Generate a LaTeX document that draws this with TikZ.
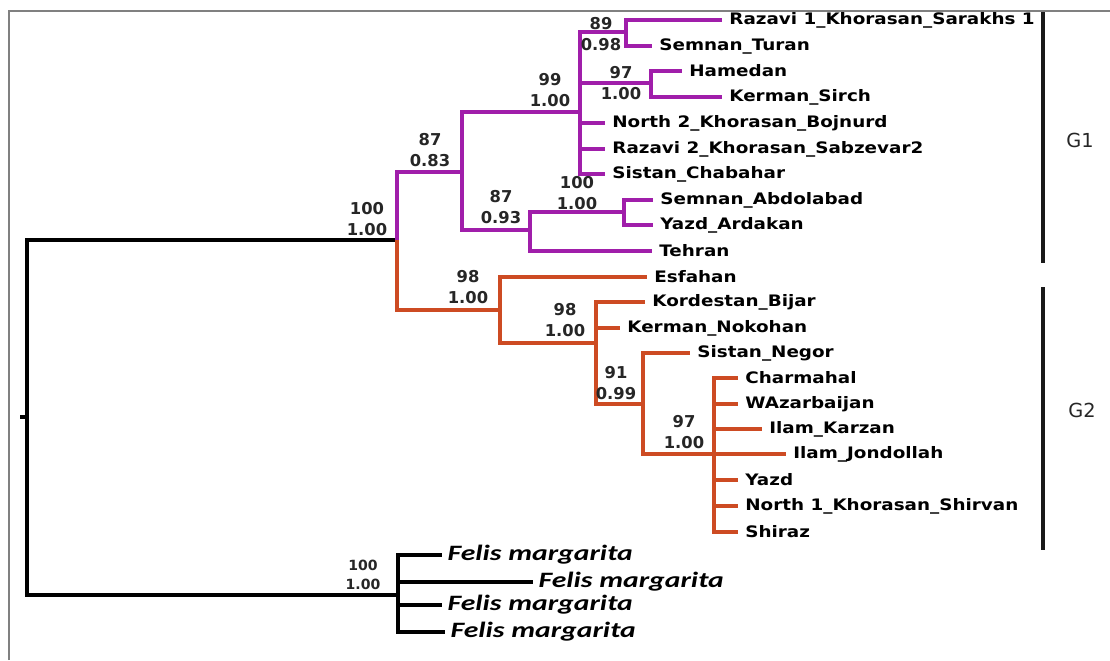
\documentclass[tikz,border=0pt]{standalone}
\usepackage{fontspec}
\usepackage{xcolor}
\usepackage{tikz}

\newfontfamily\leaffont{DejaVu Sans}[FakeStretch=1.16]
\newfontfamily\supfont{DejaVu Sans}
\newfontfamily\felisfont{Carlito}[FakeStretch=1.35]
\definecolor{cladeone}{HTML}{A01EAA}
\definecolor{cladetwo}{HTML}{CD4B23}

\begin{document}
\begin{tikzpicture}[x=0.02cm, y=-0.02cm,
    leaf/.style={anchor=west, inner xsep=4pt, inner ysep=0pt, font=\leaffont\bfseries\fontsize{9}{10}\selectfont},
    felis/.style={anchor=west, inner xsep=3pt, inner ysep=0pt, font=\felisfont\bfseries\itshape\fontsize{12.5}{13}\selectfont},
    support/.style={align=center, inner sep=0pt, text=black!85, font=\supfont\bfseries\fontsize{9.3}{12}\selectfont},
    purp/.style={draw=cladeone, line width=2.2pt},
    ornge/.style={draw=cladetwo, line width=2.2pt},
    blk/.style={draw=black, line width=2.2pt},
    groupbar/.style={draw=black!90, line width=2.6pt}]
    \useasboundingbox (0,0) rectangle (1110,660);
    \draw[gray, line width=0.8pt] (9,660) -- (9,11) -- (1110,11);

    % Internal nodes
    \coordinate (root) at (27,417);
    \coordinate (stub) at (20,417);
    \coordinate (nA) at (397,240);
    \coordinate (nB) at (462,172);
    \coordinate (nC) at (580,112);
    \coordinate (nD) at (626,32);
    \coordinate (nE) at (651,83);
    \coordinate (nF) at (530,230);
    \coordinate (nG) at (624,212);
    \coordinate (nH) at (500,310);
    \coordinate (nI) at (596,343);
    \coordinate (nJ) at (643,404);
    \coordinate (nK) at (714,454);
    \coordinate (nFel) at (398,595);

    % Leaves G1
    \node[leaf] (sarakhs) at (722,20) {Razavi 1\_Khorasan\_Sarakhs 1};
    \node[leaf] (turan) at (652,46) {Semnan\_Turan};
    \node[leaf] (hamedan) at (682,71) {Hamedan};
    \node[leaf] (sirch) at (722,97) {Kerman\_Sirch};
    \node[leaf] (bojnurd) at (605,123) {North 2\_Khorasan\_Bojnurd};
    \node[leaf] (sabzevar) at (605,149) {Razavi 2\_Khorasan\_Sabzevar2};
    \node[leaf] (chabahar) at (605,174) {Sistan\_Chabahar};
    \node[leaf] (abdolabad) at (653,200) {Semnan\_Abdolabad};
    \node[leaf] (ardakan) at (653,225) {Yazd\_Ardakan};
    \node[leaf] (tehran) at (652,251) {Tehran};

    % Leaves G2
    \node[leaf] (esfahan) at (647,277) {Esfahan};
    \node[leaf] (bijar) at (645,302) {Kordestan\_Bijar};
    \node[leaf] (nokohan) at (620,328) {Kerman\_Nokohan};
    \node[leaf] (negor) at (690,353) {Sistan\_Negor};
    \node[leaf] (charmahal) at (738,378) {Charmahal};
    \node[leaf] (wazar) at (738,404) {WAzarbaijan};
    \node[leaf] (karzan) at (762,429) {Ilam\_Karzan};
    \node[leaf] (jondollah) at (786,454) {Ilam\_Jondollah};
    \node[leaf] (yazd) at (738,480) {Yazd};
    \node[leaf] (shirvan) at (738,506) {North 1\_Khorasan\_Shirvan};
    \node[leaf] (shiraz) at (738,532) {Shiraz};

    % Outgroup
    \node[felis] (felisA) at (442,555) {Felis margarita};
    \node[felis] (felisB) at (533,582) {Felis margarita};
    \node[felis] (felisC) at (442,605) {Felis margarita};
    \node[felis] (felisD) at (445,632) {Felis margarita};

    % Branches
    \draw[blk] (root) -- (stub);
    \draw[blk] (root) |- (nA);
    \draw[blk] (root) |- (nFel);
    \draw[purp] (nA) |- (nB);
    \draw[ornge] (nA) |- (nH);
    \draw[purp] (nB) |- (nC);
    \draw[purp] (nB) |- (nF);
    \draw[purp] (nC) |- (nD);
    \draw[purp] (nC) |- (nE);
    \draw[purp] (nC) |- (bojnurd.west);
    \draw[purp] (nC) |- (sabzevar.west);
    \draw[purp] (nC) |- (chabahar.west);
    \draw[purp] (nD) |- (sarakhs.west);
    \draw[purp] (nD) |- (turan.west);
    \draw[purp] (nE) |- (hamedan.west);
    \draw[purp] (nE) |- (sirch.west);
    \draw[purp] (nF) |- (nG);
    \draw[purp] (nF) |- (tehran.west);
    \draw[purp] (nG) |- (abdolabad.west);
    \draw[purp] (nG) |- (ardakan.west);
    \draw[ornge] (nH) |- (esfahan.west);
    \draw[ornge] (nH) |- (nI);
    \draw[ornge] (nI) |- (bijar.west);
    \draw[ornge] (nI) |- (nokohan.west);
    \draw[ornge] (nI) |- (nJ);
    \draw[ornge] (nJ) |- (negor.west);
    \draw[ornge] (nJ) |- (nK);
    \foreach \lf in {charmahal, wazar, karzan, jondollah, yazd, shirvan, shiraz}
        \draw[ornge] (nK) |- (\lf.west);
    \foreach \lf in {felisA, felisB, felisC, felisD}
        \draw[blk, line width=1.9pt] (nFel) |- (\lf.west);

    % Support values
    \node[support] (bA) at (367,219) {100\\1.00};
    \node[support] (bB) at (430,150) {87\\0.83};
    \node[support] (bC) at (550,90) {99\\1.00};
    \node[support] (bD) at (601,34) {89\\0.98};
    \node[support] (bE) at (621,83) {97\\1.00};
    \node[support] (bF) at (501,207) {87\\0.93};
    \node[support] (bG) at (577,193) {100\\1.00};
    \node[support] (bH) at (468,287) {98\\1.00};
    \node[support] (bI) at (565,320) {98\\1.00};
    \node[support] (bJ) at (616,383) {91\\0.99};
    \node[support] (bK) at (684,432) {97\\1.00};
    \node[support, font=\supfont\bfseries\fontsize{8}{11}\selectfont] (bFel) at (363,575) {100\\1.00};

    % Groups
    \coordinate (gOneTop) at (1043,12);
    \coordinate (gOneBot) at (1043,263);
    \coordinate (gTwoTop) at (1043,287);
    \coordinate (gTwoBot) at (1043,550);
    \draw[groupbar] (gOneTop) -- (gOneBot);
    \draw[groupbar] (gTwoTop) -- (gTwoBot);
    \node[support, font=\supfont\fontsize{11}{12}\selectfont] (gOne) at (1080,140) {G1};
    \node[support, font=\supfont\fontsize{11}{12}\selectfont] (gTwo) at (1082,410) {G2};
\end{tikzpicture}
\end{document}
